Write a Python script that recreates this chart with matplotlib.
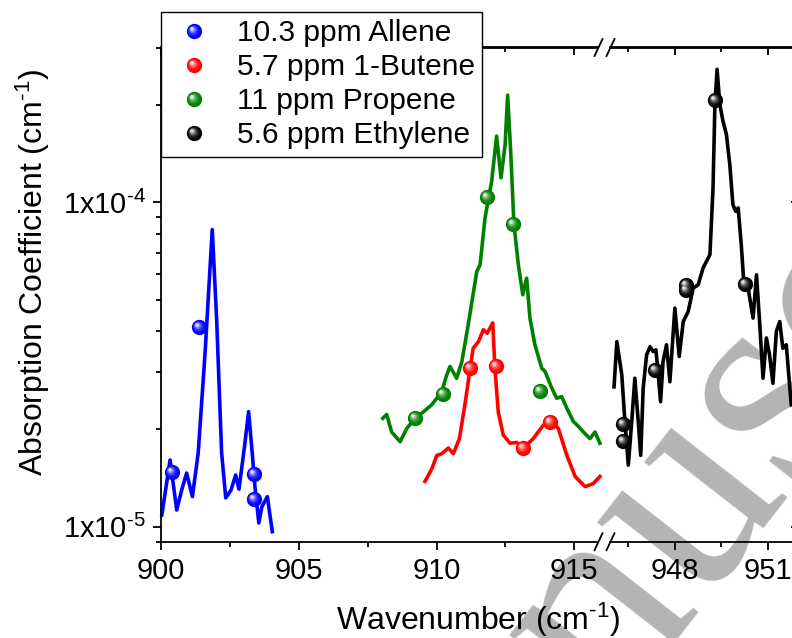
import numpy as np
import matplotlib
matplotlib.use('Agg')
import matplotlib.pyplot as plt
from matplotlib.path import Path
from matplotlib.markers import MarkerStyle
from matplotlib.lines import Line2D
from matplotlib.legend_handler import HandlerTuple
from matplotlib.colors import to_rgb
from matplotlib.ticker import LogLocator, FuncFormatter, NullFormatter

plt.rcParams['font.family'] = ['Liberation Sans', 'DejaVu Sans']
plt.rcParams['mathtext.fontset'] = 'custom'
plt.rcParams['mathtext.rm'] = 'Liberation Sans'
plt.rcParams['mathtext.it'] = 'Liberation Sans:italic'
plt.rcParams['mathtext.default'] = 'regular'

# --- spectra (absorption coefficient, in 1e-5 cm^-1) ---
allene_x = [900.03, 900.33, 900.57, 900.75, 900.93, 901.14, 901.35, 901.60, 901.86, 902.02,
            902.20, 902.35, 902.54, 902.71, 902.83, 903.03, 903.18, 903.31, 903.41, 903.55,
            903.66, 903.86, 904.04]
allene_y = [1.087, 1.607, 1.127, 1.298, 1.465, 1.239, 1.690, 3.437, 8.24, 4.35,
            1.69, 1.228, 1.298, 1.445, 1.306, 1.766, 2.265, 1.69, 1.328, 1.028,
            1.153, 1.239, 0.966]

propene_x = [908.05, 908.19, 908.37, 908.68, 908.92, 909.22, 909.52, 909.83, 910.19, 910.37,
             910.49, 910.73, 910.92, 911.15, 911.46, 911.58, 911.76, 912.00, 912.18, 912.34,
             912.49, 912.58, 912.69, 912.81, 912.97, 913.13, 913.27, 913.39, 913.57, 913.82,
             913.94, 914.18, 914.36, 914.54, 914.73, 914.97, 915.15, 915.33, 915.57, 915.75,
             915.93]
propene_y = [2.16, 2.22, 1.96, 1.83, 2.01, 2.16, 2.26, 2.38, 2.61, 2.94,
             3.12, 2.87, 3.23, 4.20, 6.12, 6.42, 8.95, 11.6, 16.0, 11.9,
             15.1, 21.4, 14.4, 8.54, 6.42, 5.19, 5.84, 4.40, 3.64, 3.08,
             3.01, 2.68, 2.49, 2.52, 2.32, 2.11, 2.04, 1.96, 1.87, 1.96,
             1.81]

butene_x = [909.58, 909.83, 910.01, 910.19, 910.43, 910.61, 910.83, 911.03, 911.22, 911.33,
            911.52, 911.70, 911.84, 912.04, 912.12, 912.24, 912.42, 912.67, 912.91, 913.15,
            913.51, 913.88, 914.18, 914.42, 914.73, 915.03, 915.39, 915.69, 915.93]
butene_y = [1.38, 1.51, 1.66, 1.68, 1.75, 1.68, 1.87, 2.38, 3.08, 3.55,
            3.72, 4.05, 3.95, 4.25, 3.08, 2.26, 1.92, 1.81, 1.82, 1.75,
            1.87, 2.06, 2.11, 2.01, 1.66, 1.43, 1.33, 1.36, 1.43]

ethylene_x = [946.04, 946.13, 946.29, 946.39, 946.50, 946.61, 946.71, 946.82, 946.90, 946.98,
              947.09, 947.20, 947.30, 947.39, 947.46, 947.54, 947.62, 947.73, 947.84, 948.00,
              948.14, 948.27, 948.43, 948.59, 948.75, 948.91, 949.13, 949.23, 949.29, 949.36,
              949.45, 949.55, 949.66, 949.77, 949.87, 949.96, 950.04, 950.14, 950.22, 950.36,
              950.52, 950.63, 950.73, 950.84, 950.95, 951.05, 951.16, 951.27, 951.38, 951.48,
              951.59, 951.75]
ethylene_y = [2.70, 3.72, 2.94, 2.11, 1.55, 2.11, 2.87, 2.11, 1.66, 2.68,
              3.39, 3.59, 3.47, 3.51, 2.97, 2.43, 3.23, 3.64, 2.80, 4.72,
              3.35, 4.29, 4.61, 5.44, 5.57, 6.28, 6.90, 11.1, 20.0, 25.7,
              20.0, 17.8, 16.2, 13.1, 9.84, 9.38, 9.61, 7.40, 5.70, 5.44,
              4.40, 5.98, 4.29, 2.87, 3.82, 3.39, 2.77, 4.00, 4.29, 3.55,
              3.64, 2.38]

# --- ball markers (1e-5 cm^-1) ---
allene_mx = [900.39, 901.39, 903.38, 903.38]
allene_my = [1.48, 4.12, 1.46, 1.22]
butene_mx = [911.22, 912.16, 913.13, 914.12]
butene_my = [3.08, 3.12, 1.75, 2.10]
propene_mx = [909.22, 910.25, 911.82, 912.77, 913.76]
propene_my = [2.17, 2.56, 10.4, 8.58, 2.62]
ethylene_mx = [946.34, 946.34, 947.36, 948.35, 948.35, 949.30, 950.25]
ethylene_my = [2.07, 1.84, 3.05, 5.57, 5.38, 20.6, 5.61]

labels = ['10.3 ppm Allene', '5.7 ppm 1-Butene', '11 ppm Propene', '5.6 ppm Ethylene']
colors = ['#0000ff', '#ff0000', '#008000', '#000000']
scale = 1e-5

W, H = 792, 638
MS = 11


def sphere_layers(color, n=8):
    # stacked circles shifted to the upper left -> shaded ball like Origin's sphere symbol
    base = np.array(to_rgb(color))
    layers = []
    corners = Path([(-1, -1), (1, 1)], [Path.MOVETO, Path.MOVETO])
    for i in range(n):
        t = i / (n - 1)
        circ = Path.circle((-0.33 * t, 0.33 * t), 1.0 - 0.8 * t)
        p = Path.make_compound_path(circ, corners)
        col = base + (1 - base) * 0.88 * t ** 2.2
        layers.append((MarkerStyle(p), tuple(col)))
    return layers


def sphere_plot(ax, x, y, color):
    for m, c in sphere_layers(color):
        ax.plot(x, np.array(y) * scale, ls='none', marker=m, ms=MS, mfc=c,
                mec='none', mew=0, zorder=4, clip_on=False)


fig = plt.figure(figsize=(W / 100, H / 100), dpi=100)

bottom = 1 - 541.7 / H
height = (541.7 - 47.5) / H
ax1 = fig.add_axes([161 / W, bottom, (598 - 161) / W, height])
ax2 = fig.add_axes([610 / W, bottom, (799 - 610) / W, height])

for ax in (ax1, ax2):
    ax.set_facecolor('none')
    ax.set_yscale('log')
    ax.set_ylim(9e-6, 3e-4)
    for s in ax.spines.values():
        s.set_linewidth(1.3)
    ax.yaxis.set_major_locator(LogLocator(base=10))
    ax.yaxis.set_minor_locator(LogLocator(base=10, subs=np.arange(2, 10)))
    ax.yaxis.set_minor_formatter(NullFormatter())

ax1.set_xlim(900, 915.86)
ax2.set_xlim(945.91, 952)

ax1.plot(allene_x, np.array(allene_y) * scale, color=colors[0], lw=2.6, clip_on=False)
ax1.plot(propene_x, np.array(propene_y) * scale, color=colors[2], lw=2.6, clip_on=False)
ax1.plot(butene_x, np.array(butene_y) * scale, color=colors[1], lw=2.6, clip_on=False)
ax2.plot(ethylene_x, np.array(ethylene_y) * scale, color=colors[3], lw=2.6, clip_on=False)

sphere_plot(ax1, allene_mx, allene_my, colors[0])
sphere_plot(ax1, butene_mx, butene_my, colors[1])
sphere_plot(ax1, propene_mx, propene_my, colors[2])
sphere_plot(ax2, ethylene_mx, ethylene_my, colors[3])

# ticks
ax1.set_xticks([900, 905, 910, 915])
ax1.set_xticks([902.5, 907.5, 912.5], minor=True)
ax2.set_xticks([948, 951])
ax2.set_xticks([946.5, 949.5], minor=True)

fmt = FuncFormatter(lambda v, pos: '1x10$^{\\text{%d}}$' % int(round(np.log10(v))))
ax1.yaxis.set_major_formatter(fmt)

ax1.spines['right'].set_visible(False)
ax2.spines['left'].set_visible(False)

tick_kw = dict(width=1.3, labelsize=21)
ax1.tick_params(axis='both', which='major', length=6, direction='out', pad=5, **tick_kw)
ax1.tick_params(axis='both', which='minor', length=3.6, direction='out', width=1.3)
ax1.tick_params(axis='x', top=False, which='both')
ax1.tick_params(axis='y', right=False, which='both')

ax2.tick_params(axis='x', which='major', length=6, direction='out', pad=5, **tick_kw)
ax2.tick_params(axis='x', which='minor', length=3.6, direction='out', width=1.3)
ax2.tick_params(axis='y', which='major', length=6, direction='in', width=1.3,
                left=False, right=True, labelleft=False, labelright=False)
ax2.tick_params(axis='y', which='minor', length=3.6, direction='in', width=1.3,
                left=False, right=True)

# inward ticks on the top spines
for ax, maj, mnr in ((ax1, [900, 905, 910, 915], [902.5, 907.5, 912.5]),
                     (ax2, [948, 951], [946.5, 949.5])):
    top = ax.secondary_xaxis('top')
    top.set_xticks(maj)
    top.set_xticks(mnr, minor=True)
    top.xaxis.set_major_formatter(NullFormatter())
    top.tick_params(which='major', direction='in', length=6, width=1.3)
    top.tick_params(which='minor', direction='in', length=3.6, width=1.3)
    top.spines['top'].set_linewidth(1.3)

# break marks
for xc in (598.5, 610.5):
    for yc in (47.5, 541.7):
        fig.add_artist(Line2D([(xc - 4) / W, (xc + 4) / W],
                              [1 - (yc + 8.5) / H, 1 - (yc - 8.5) / H],
                              transform=fig.transFigure, color='k', lw=1.3))

# axis titles
fig.text(478 / W, 1 - 630 / H, 'Wavenumber (cm$^{\\text{-1}}$)', ha='center', va='baseline',
         fontsize=23)
fig.text(33 / W, 1 - 272 / H, 'Absorption Coefficient (cm$^{\\text{-1}}$)', rotation=90,
         ha='center', va='center', fontsize=23)

# legend
handles = []
for c in colors:
    handles.append(tuple(Line2D([], [], ls='none', marker=m, ms=MS, mfc=cc, mec='none', mew=0)
                         for m, cc in sphere_layers(c)))
leg = fig.legend(handles, labels, handler_map={tuple: HandlerTuple(ndivide=1, pad=0)},
                 loc='upper left', bbox_to_anchor=(161 / W, 1 - 11.7 / H),
                 bbox_transform=fig.transFigure, borderaxespad=0, frameon=True,
                 fancybox=False, edgecolor='k', framealpha=1, fontsize=21.5,
                 borderpad=0.25, handlelength=1.71, handletextpad=0.58, labelspacing=0.2)
leg.get_frame().set_linewidth(1.0)

# watermark
fig.text(778 / W, 1 - 498 / H, 'Manuscript', family='Liberation Serif', fontsize=210,
         color='#b4b4b4', rotation=52, rotation_mode='anchor', ha='center', va='baseline',
         zorder=-10)

fig.savefig('out.png', dpi=100)
